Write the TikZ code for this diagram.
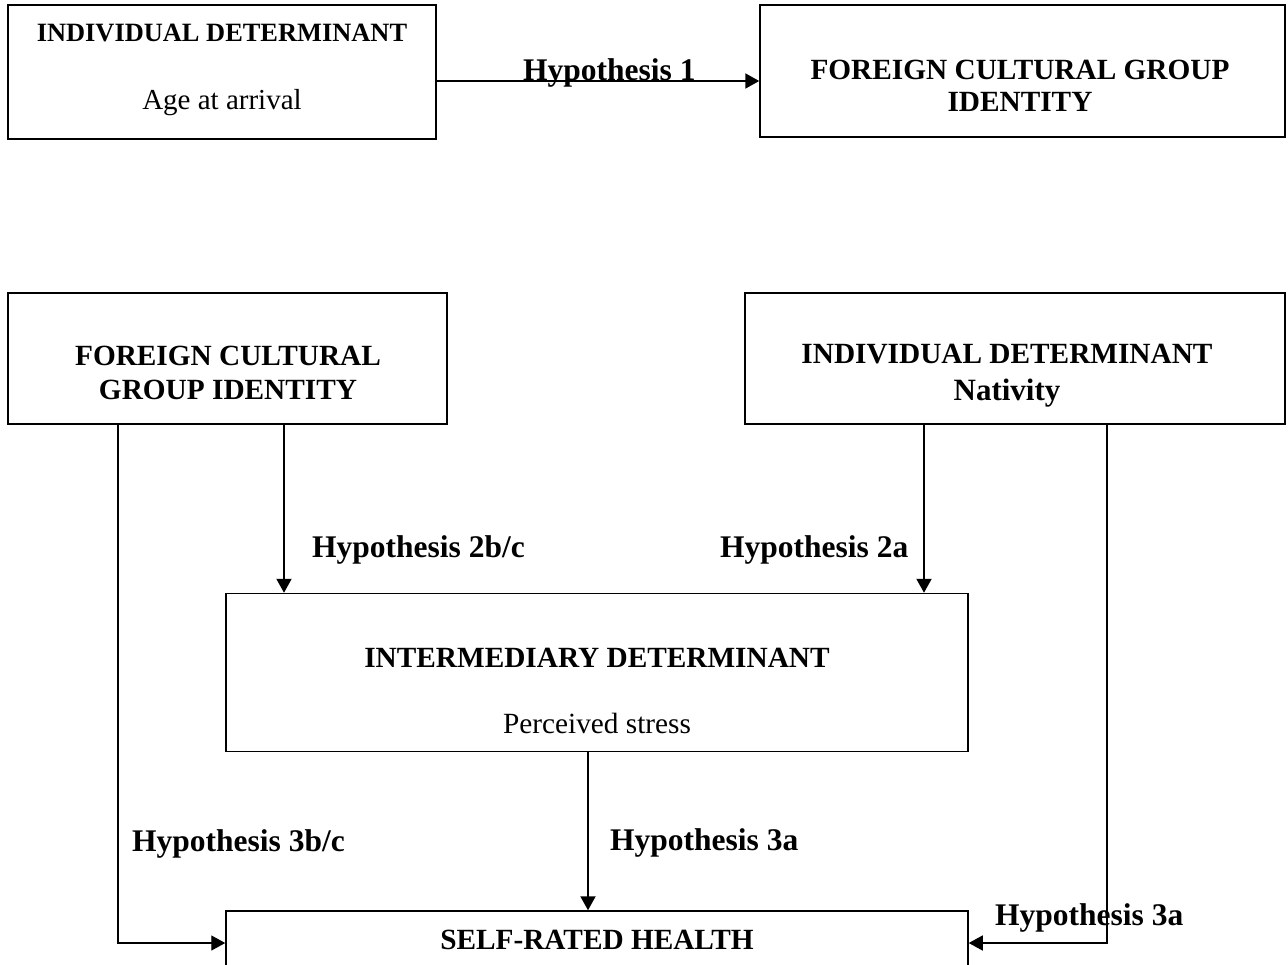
\documentclass[tikz,border=0pt]{standalone}
\usepackage{fontspec}
\setmainfont{Liberation Serif}
\usetikzlibrary{arrows.meta}
\begin{document}
\begin{tikzpicture}[x=1pt,y=-1pt,
  box/.style={draw,line width=1.5pt,inner sep=0pt},
  lab/.style={font=\bfseries\fontsize{31.5}{34}\selectfont,inner sep=0pt,anchor=base west},
  ttl/.style={font=\bfseries\fontsize{29.3}{32}\selectfont,inner sep=0pt,anchor=base},
  sub/.style={font=\fontsize{29}{32}\selectfont,inner sep=0pt,anchor=base},
  arr/.style={line width=2pt,-{Triangle[length=14pt,width=15pt]}},
  thin/.style={line width=1.4pt,-{Triangle[length=14pt,width=15pt]}}]
\clip (0,0) rectangle (1288,964);
\fill[white] (0,0) rectangle (1288,964);
% boxes
\node[box,minimum width=428,minimum height=134] (ind1) at (222,72) {};
\node[box,minimum width=525,minimum height=132] (fcg1) at (1022.5,71) {};
\node[box,minimum width=439,minimum height=131] (fcg2) at (227.5,358.5) {};
\node[box,minimum width=540,minimum height=131] (ind2) at (1015,358.5) {};
\node[box,minimum width=742,minimum height=158] (inter) at (597,672.5) {};
\node[box,minimum width=742,minimum height=70] (srh) at (597,946) {};
% texts
\node[ttl,font=\bfseries\fontsize{26.4}{30}\selectfont] (t1) at (222,41) {INDIVIDUAL DETERMINANT};
\node[sub] (t2) at (222,109) {Age at arrival};
\node[ttl] (t3) at (1020,79) {FOREIGN CULTURAL GROUP};
\node[ttl] (t4) at (1020,111) {IDENTITY};
\node[ttl] (t5) at (228,365) {FOREIGN CULTURAL};
\node[ttl] (t6) at (228,399) {GROUP IDENTITY};
\node[ttl] (t7) at (1007,363) {INDIVIDUAL DETERMINANT};
\node[ttl,font=\bfseries\fontsize{31}{34}\selectfont] (t8) at (1007,400) {Nativity};
\node[ttl] (t9) at (597,667) {INTERMEDIARY DETERMINANT};
\node[sub,font=\fontsize{29.3}{32}\selectfont] (t10) at (597,733) {Perceived stress};
\node[ttl] (t11) at (597,949) {SELF-RATED HEALTH};
% hypothesis labels
\node[lab] (h1) at (523,80) {Hypothesis 1};
\node[lab] (h2bc) at (312,557) {Hypothesis 2b/c};
\node[lab] (h2a) at (720,557) {Hypothesis 2a};
\node[lab] (h3bc) at (132,851) {Hypothesis 3b/c};
\node[lab] (h3a) at (610,850) {Hypothesis 3a};
\node[lab] (h3a2) at (995,925) {Hypothesis 3a};
% connectors
\draw[arr] (ind1.east |- 0,81) -- (fcg1.west |- 0,81);
\draw[arr] (fcg2.south -| 284,0) -- (inter.north -| 284,0);
\draw[arr] (ind2.south -| 924,0) -- (inter.north -| 924,0);
\draw[arr] (inter.south -| 588,0) -- (srh.north -| 588,0);
\draw[thin] (fcg2.south -| 118,0) -- (118,943) -- (srh.west |- 0,943);
\draw[thin] (ind2.south -| 1107,0) -- (1107,943) -- (srh.east |- 0,943);
\end{tikzpicture}
\end{document}
